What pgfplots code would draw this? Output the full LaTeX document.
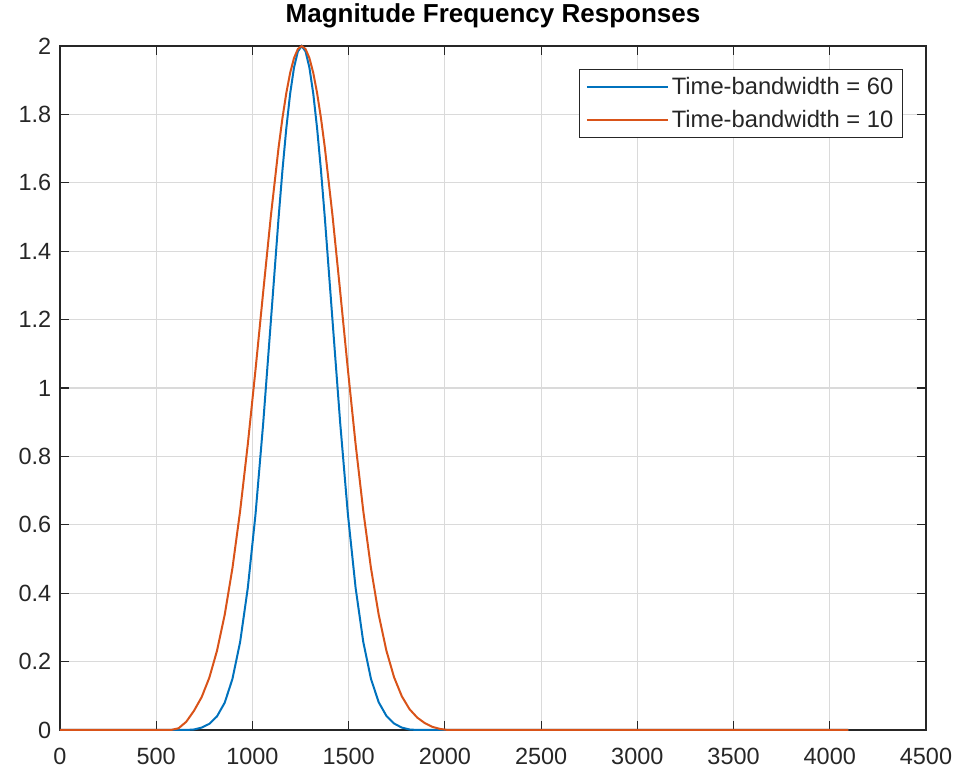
\documentclass[border=0pt]{standalone}
\usepackage{fontspec}
\setmainfont{Liberation Sans}
\usepackage{pgfplots}
\pgfplotsset{compat=1.18}
\definecolor{mblue}{rgb}{0,0.447,0.741}
\definecolor{morange}{rgb}{0.85,0.325,0.098}
\definecolor{axgray}{RGB}{38,38,38}
\definecolor{gridgray}{RGB}{218,218,218}
\begin{document}
\begin{tikzpicture}
\useasboundingbox (-45pt,-33pt) rectangle (673.5pt,547.5pt);
\begin{axis}[
  at={(0pt,0pt)}, anchor=south west,
  scale only axis, width=649.5pt, height=513pt,
  xmin=0, xmax=4500, ymin=0, ymax=2,
  xtick={0,500,1000,1500,2000,2500,3000,3500,4000,4500},
  ytick={0,0.2,0.4,0.6,0.8,1,1.2,1.4,1.6,1.8,2},
  yticklabels={0,0.2,0.4,0.6,0.8,1,1.2,1.4,1.6,1.8,2},
  xticklabels={0,500,1000,1500,2000,2500,3000,3500,4000,4500},
  tick align=inside,
  major tick length=6.5pt,
  every tick/.style={axgray, line width=0.8pt},
  axis line style={axgray, line width=0.8pt},
  grid=major,
  major grid style={gridgray, line width=0.8pt},
  tick label style={font=\fontsize{17.6}{21}\selectfont, text=axgray},
  xticklabel style={yshift=-10pt},
  yticklabel style={xshift=-3pt},
  title={\textbf{Magnitude Frequency Responses}},
  title style={font=\fontsize{19.5}{23}\selectfont, anchor=base, at={(0.5,1)}, yshift=11.25pt},
  clip=false,
  legend cell align=left,
  legend style={at={(1,1)}, anchor=north east, xshift=-17.25pt, yshift=-17.25pt,
    draw=axgray, line width=0.6pt, fill=white,
    font=\fontsize{17.8}{21}\selectfont, text=axgray,
    inner xsep=5pt, inner ysep=4pt, row sep=6.5pt},
  legend image code/.code={\draw[#1, line width=1.5pt] (0pt,0pt) -- (61pt,0pt);},
]
\addplot[mblue, line width=1.5pt] coordinates {
(0,0) (656,0) (696,0.0015) (736,0.0070) (776,0.0180)
(816,0.0400) (856,0.0800) (896,0.1492) (936,0.2572) (976,0.4160) (1016,0.6309)
(1056,0.8977) (1096,1.1977) (1136,1.4989) (1156,1.6370) (1176,1.7594) (1196,1.8609)
(1216,1.9369) (1236,1.9840) (1256,2) (1276,1.9840) (1296,1.9369) (1316,1.8609)
(1336,1.7594) (1356,1.6370) (1376,1.4989) (1416,1.1977) (1456,0.8977) (1496,0.6309)
(1536,0.4160) (1576,0.2572) (1616,0.1492) (1656,0.0812) (1696,0.0414) (1736,0.0190)
(1776,0.0070) (1816,0.0015) (1856,0) (4096,0)
};
\addlegendentry{Time-bandwidth = 60}
\addplot[morange, line width=1.5pt] coordinates {
(0,0) (576,0) (616,0.005) (656,0.0240)
(696,0.0560) (736,0.0960) (776,0.1530) (816,0.2321) (856,0.3373) (896,0.4730)
(936,0.6402) (976,0.8361) (1016,1.0538) (1056,1.2816) (1096,1.5044) (1136,1.7039)
(1156,1.7894) (1176,1.8625) (1196,1.9215) (1216,1.9647) (1236,1.9911) (1256,2)
(1276,1.9911) (1296,1.9647) (1316,1.9215) (1336,1.8625) (1356,1.7894) (1376,1.7039)
(1416,1.5044) (1456,1.2816) (1496,1.0538) (1536,0.8361) (1576,0.6402) (1616,0.4730)
(1656,0.3373) (1696,0.2321) (1736,0.1541) (1776,0.0988) (1816,0.0611) (1856,0.0364)
(1896,0.0200) (1936,0.0090) (1976,0.0030) (2016,0) (4096,0)
};
\addlegendentry{Time-bandwidth = 10}
\end{axis}
\end{tikzpicture}
\end{document}
